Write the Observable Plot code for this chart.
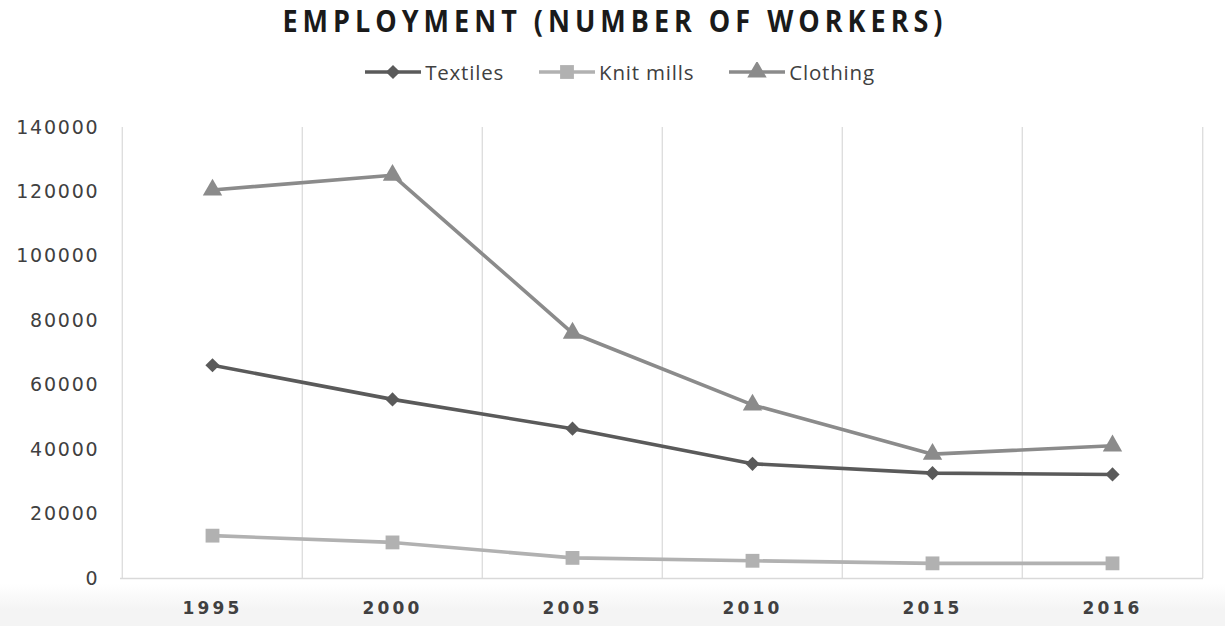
<!DOCTYPE html>
<html>
<head>
<meta charset="utf-8">
<script src="https://cdn.jsdelivr.net/npm/d3@7"></script>
<script src="https://cdn.jsdelivr.net/npm/@observablehq/plot@0.6"></script>
<style>
  html, body { margin: 0; padding: 0; background: #fff; }
  body { width: 1225px; height: 626px; overflow: hidden; font-family: "Open Sans", "DejaVu Sans", sans-serif; }
  #title { height: 44px; line-height: 42px; text-align: center; font-weight: 700; font-size: 27px; letter-spacing: 5px; color: #1a1a1a; transform: scaleY(1.12); padding-left: 5px; }
  #legend { height: 56px; display: flex; justify-content: center; align-items: center; gap: 34px; font-size: 20.5px; letter-spacing: 0.8px; color: #404040; padding-left: 14px; box-sizing: border-box; }
  .item { display: flex; align-items: center; gap: 3px; }
  #chart { background: linear-gradient(to bottom, #fff 0, #fff 92%, #f4f4f4 97%, #f4f4f4 100%); }
  #chart g[aria-label="x-axis tick label"] text { letter-spacing: 3.2px; }
  #chart g[aria-label="y-axis tick label"] text { letter-spacing: 1.8px; }
</style>
</head>
<body>
<div id="title">EMPLOYMENT (NUMBER OF WORKERS)</div>
<div id="legend"></div>
<div id="chart"></div>
<script>
const years = ["1995", "2000", "2005", "2010", "2015", "2016"];
const textiles = [66200, 55600, 46500, 35600, 32700, 32300];
const knitMills = [13300, 11200, 6400, 5500, 4700, 4700];
const clothing = [120600, 125200, 76200, 53900, 38600, 41200];
const seriesNames = ["Textiles", "Knit mills", "Clothing"];
const yTicks = [0, 20000, 40000, 60000, 80000, 100000, 120000, 140000];

const seriesValues = [textiles, knitMills, clothing];
const colors = ["#5a5a5a", "#b1b1b1", "#8b8b8b"];
const symbols = ["diamond2", "square", "triangle"];
const radii = [6.4, 7.8, 7.2];

const data = seriesNames.flatMap((s, i) =>
  years.map((y, j) => ({ series: s, year: y, value: seriesValues[i][j] }))
);

// Legend
const d3Symbols = { diamond2: d3.symbolDiamond2, square: d3.symbolSquare, triangle: d3.symbolTriangle };
const legend = d3.select("#legend");
seriesNames.forEach((s, i) => {
  const item = legend.append("div").attr("class", "item");
  const svg = item.append("svg").attr("width", 58).attr("height", 20);
  svg.append("line").attr("x1", 1).attr("x2", 57).attr("y1", 10).attr("y2", 10)
    .attr("stroke", colors[i]).attr("stroke-width", 3.5);
  svg.append("path").attr("transform", "translate(29,10)")
    .attr("d", d3.symbol(d3Symbols[symbols[i]], Math.PI * radii[i] * radii[i])())
    .attr("fill", colors[i]);
  item.append("span").text(s);
});

const width = 1225, height = 526;
const marginLeft = 120, marginRight = 22, marginTop = 27, marginBottom = 48;
const halfBand = (width - marginLeft - marginRight) / years.length / 2;

const plot = Plot.plot({
  width, height, marginLeft, marginRight, marginTop, marginBottom,
  style: { fontFamily: "DejaVu Sans, sans-serif", background: "transparent", overflow: "visible" },
  x: { type: "band", domain: years, padding: 0, axis: null, label: null },
  y: { domain: [0, 140000], axis: null, label: null },
  marks: [
    // vertical gridlines at band edges
    Plot.ruleX(years, { x: d => d, dx: -halfBand, y1: 0, y2: 140000, stroke: "#d9d9d9", strokeWidth: 1.2 }),
    Plot.ruleX([years[years.length - 1]], { x: d => d, dx: halfBand, y1: 0, y2: 140000, stroke: "#d9d9d9", strokeWidth: 1.2 }),
    // baseline
    Plot.ruleY([0], { stroke: "#d9d9d9", strokeWidth: 1.5 }),
    // y tick labels
    Plot.axisY(yTicks, { anchor: "left", label: null, tickSize: 0, tickPadding: 21, fontSize: 19, fill: "#404040", tickFormat: d => String(d) }),
    // x tick labels
    Plot.axisX(years, { anchor: "bottom", label: null, tickSize: 0, tickPadding: 23, fontSize: 17, fontWeight: "bold", fill: "#404040", dx: 0 }),
    ...seriesNames.map((s, i) =>
      Plot.line(data.filter(d => d.series === s), { x: "year", y: "value", stroke: colors[i], strokeWidth: 3.6 })
    ),
    ...seriesNames.map((s, i) =>
      Plot.dot(data.filter(d => d.series === s), { x: "year", y: "value", fill: colors[i], symbol: symbols[i], r: radii[i], stroke: "none" })
    )
  ]
});
document.getElementById("chart").append(plot);
</script>
</body>
</html>
